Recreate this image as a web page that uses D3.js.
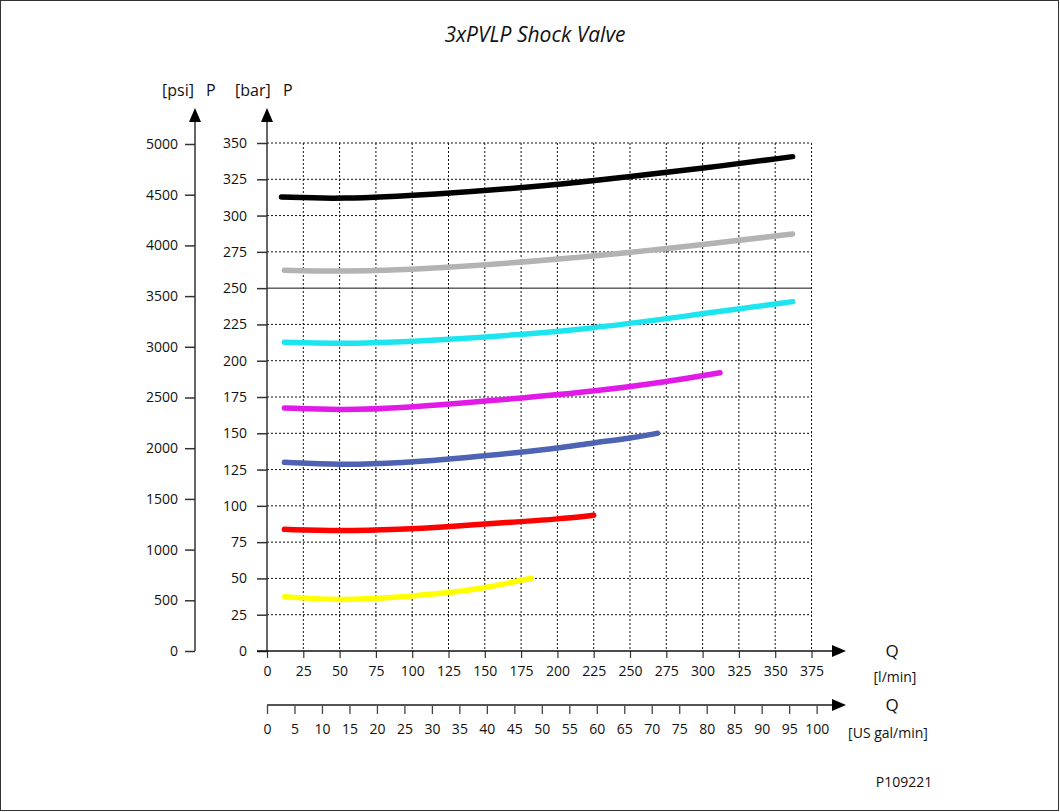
<!DOCTYPE html>
<html><head><meta charset="utf-8">
<script src="https://cdn.jsdelivr.net/npm/d3@7"></script>
<style>
body{margin:0;background:#fff;}
text{font-family:"Open Sans","Noto Sans",sans-serif;fill:#111;}
</style></head>
<body><svg id="c" width="1060" height="812"></svg>
<script>
// ---- data ----
const title = "3xPVLP Shock Valve";
const barTicks = [0,25,50,75,100,125,150,175,200,225,250,275,300,325,350];
const psiTicks = [0,500,1000,1500,2000,2500,3000,3500,4000,4500,5000];
const lpmTicks = [0,25,50,75,100,125,150,175,200,225,250,275,300,325,350,375];
const galTicks = [0,5,10,15,20,25,30,35,40,45,50,55,60,65,70,75,80,85,90,95,100];
const seriesColors = ["#000000","#b3b3b3","#1de5ef","#e21ae8","#4e63b3","#ff0000","#ffff00"];
const flowBlack   = [10,50,112,200,250,300,362];
const barBlack    = [312.8,311.3,314.2,321,327,332.5,340.6];
const flowGray    = [12,50,112,229,298,362];
const barGray     = [262.3,261.4,263,272.1,279.7,287.3];
const flowCyan    = [12,50,112,220,298,362];
const barCyan     = [212.7,211.5,213.5,221.2,232.2,240.7];
const flowMagenta = [12,50,92,174,224,275,312];
const barMagenta  = [167.4,166,167.2,174.1,178.7,185.5,191.7];
const flowBlue    = [12,50,92,140,174,200,225,250,269];
const barBlue     = [130,128.2,129.5,133.4,136.9,139.7,143.5,146.5,150];
const flowRed     = [12,50,92,125,150,175,200,225];
const barRed      = [83.8,82.7,83.8,85.6,87.5,89.1,90.9,93.5];
const flowYellow  = [12,50,92,125,150,182];
const barYellow   = [37.4,34.7,37.2,40,43.4,50.1];
const seriesFlows = [flowBlack,flowGray,flowCyan,flowMagenta,flowBlue,flowRed,flowYellow];
const seriesBars  = [barBlack,barGray,barCyan,barMagenta,barBlue,barRed,barYellow];

// ---- layout ----
const svg = d3.select("#c");
const x = d3.scaleLinear().domain([0,375]).range([267,811.5]);
const y = d3.scaleLinear().domain([0,350]).range([651,143]);
const yPsi = d3.scaleLinear().domain([0,5000]).range([651,144]);
const xGal = d3.scaleLinear().domain([0,100]).range([267,267+100*3.78541*(x(1)-x(0))]);
const FS = "14px";

// frame
svg.append("rect").attr("x",0.5).attr("y",0.5).attr("width",1058).attr("height",810)
  .attr("fill","none").attr("stroke","#333").attr("stroke-width",1);

// title
svg.append("text").attr("x",535).attr("y",42).attr("text-anchor","middle")
  .style("font-size","21px").style("font-style","italic").text(title);

// grid
const g = svg.append("g");
g.selectAll(".vg").data(lpmTicks.filter(d=>d>0)).enter().append("line")
  .attr("x1",d=>x(d)).attr("x2",d=>x(d)).attr("y1",y(350)).attr("y2",y(0))
  .attr("stroke","#111").attr("stroke-width",1).attr("stroke-dasharray","2,2");
g.selectAll(".hg").data(barTicks.filter(d=>d>0)).enter().append("line")
  .attr("x1",x(0)).attr("x2",x(375)).attr("y1",d=>y(d)).attr("y2",d=>y(d))
  .attr("stroke","#111").attr("stroke-width",1)
  .attr("stroke-dasharray",d=>d===250?null:"2,2");

function arrowUp(cx, tipY){
  svg.append("path").attr("d",`M${cx},${tipY} L${cx-6},${tipY+14} L${cx+6},${tipY+14} Z`).attr("fill","#000");
}
function arrowRight(tipX, cy){
  svg.append("path").attr("d",`M${tipX},${cy} L${tipX-14},${cy-6} L${tipX-14},${cy+6} Z`).attr("fill","#000");
}
function styleTicks(sel){
  sel.select(".domain").remove();
  sel.selectAll(".tick text").style("font-size",FS).style("font-family","'Open Sans',sans-serif").attr("fill","#111");
}

// bar axis
const ab = svg.append("g").attr("transform","translate(267,0)")
  .call(d3.axisLeft(y).tickValues(barTicks).tickFormat(d3.format("d")).tickSize(10).tickPadding(10));
styleTicks(ab);
ab.selectAll(".tick line").attr("stroke","#333").attr("stroke-width",1.5);
svg.append("line").attr("x1",267).attr("x2",267).attr("y1",651).attr("y2",118).attr("stroke","#333").attr("stroke-width",1.5);
arrowUp(267,108);

// psi axis
const ap = svg.append("g").attr("transform","translate(195,0)")
  .call(d3.axisLeft(yPsi).tickValues(psiTicks).tickFormat(d3.format("d")).tickSize(10).tickPadding(7));
styleTicks(ap);
ap.selectAll(".tick line").attr("stroke","#333").attr("stroke-width",1.5);
svg.append("line").attr("x1",195).attr("x2",195).attr("y1",651).attr("y2",118).attr("stroke","#333").attr("stroke-width",1.5);
arrowUp(195,108);

// axis header labels
svg.append("text").attr("x",162).attr("y",96).style("font-size","16px").text("[psi]");
svg.append("text").attr("x",206).attr("y",96).style("font-size","16px").text("P");
svg.append("text").attr("x",235).attr("y",96).style("font-size","16px").text("[bar]");
svg.append("text").attr("x",283).attr("y",96).style("font-size","16px").text("P");

// l/min axis
const al = svg.append("g").attr("transform","translate(0,651)")
  .call(d3.axisBottom(x).tickValues(lpmTicks).tickSize(7).tickPadding(8));
styleTicks(al);
al.selectAll(".tick line").attr("stroke","#333").attr("stroke-width",1.2);
svg.append("line").attr("x1",257).attr("x2",836).attr("y1",651).attr("y2",651).attr("stroke","#111").attr("stroke-width",1.5);
arrowRight(846,651);
svg.append("text").attr("x",892).attr("y",657).attr("text-anchor","middle").style("font-size","17px").text("Q");
svg.append("text").attr("x",895).attr("y",682).attr("text-anchor","middle").style("font-size",FS).text("[l/min]");

// gal axis
const ag = svg.append("g").attr("transform","translate(0,705)")
  .call(d3.axisBottom(xGal).tickValues(galTicks).tickSize(9).tickPadding(10));
styleTicks(ag);
ag.selectAll(".tick line").attr("stroke","#444").attr("stroke-width",1.3);
svg.append("line").attr("x1",267).attr("x2",836).attr("y1",705).attr("y2",705).attr("stroke","#555").attr("stroke-width",1.8);
arrowRight(846,705);
svg.append("text").attr("x",892).attr("y",711).attr("text-anchor","middle").style("font-size","17px").text("Q");
svg.append("text").attr("x",888).attr("y",738).attr("text-anchor","middle").style("font-size",FS).text("[US gal/min]");

// curves
const line = d3.line().x(d=>x(d[0])).y(d=>y(d[1])).curve(d3.curveBasis);
seriesFlows.forEach((fl,i)=>{
  const pts = fl.map((f,j)=>[f,seriesBars[i][j]]);
  svg.append("path").datum(pts).attr("d",line).attr("fill","none")
    .attr("stroke",seriesColors[i]).attr("stroke-width",5.5).attr("stroke-linecap","round");
});

// footer id
svg.append("text").attr("x",904).attr("y",787).attr("text-anchor","middle").style("font-size",FS).text("P109221");
</script></body></html>
